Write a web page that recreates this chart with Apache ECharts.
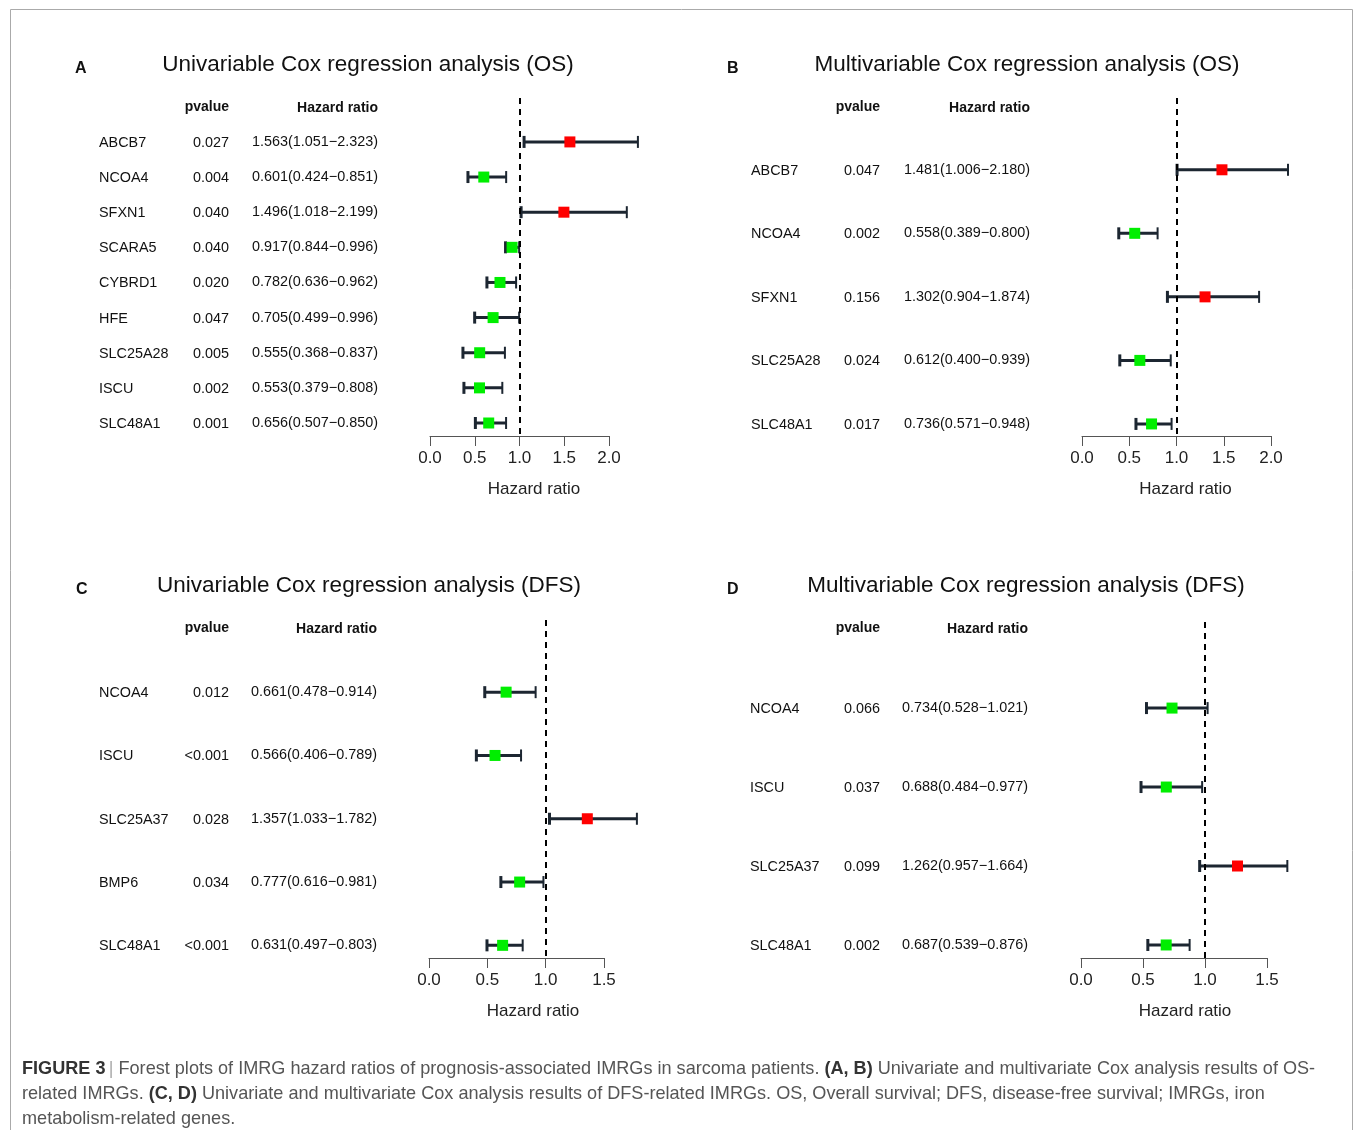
<!DOCTYPE html>
<html>
<head>
<meta charset="utf-8">
<script src="https://cdn.jsdelivr.net/npm/echarts@6/dist/echarts.min.js"></script>
<style>
html,body{margin:0;padding:0;background:#fff;}
#chart{width:1355px;height:1130px;}
</style>
</head>
<body>
<div id="chart"></div>
<script>
// ---------- DATA ----------
// Panel A: Univariable Cox regression analysis (OS)
const genesA = ['ABCB7','NCOA4','SFXN1','SCARA5','CYBRD1','HFE','SLC25A28','ISCU','SLC48A1'];
const pA  = ['0.027','0.004','0.040','0.040','0.020','0.047','0.005','0.002','0.001'];
const hrA = [1.563,0.601,1.496,0.917,0.782,0.705,0.555,0.553,0.656];
const loA = [1.051,0.424,1.018,0.844,0.636,0.499,0.368,0.379,0.507];
const hiA = [2.323,0.851,2.199,0.996,0.962,0.996,0.837,0.808,0.850];

// Panel B: Multivariable Cox regression analysis (OS)
const genesB = ['ABCB7','NCOA4','SFXN1','SLC25A28','SLC48A1'];
const pB  = ['0.047','0.002','0.156','0.024','0.017'];
const hrB = [1.481,0.558,1.302,0.612,0.736];
const loB = [1.006,0.389,0.904,0.400,0.571];
const hiB = [2.180,0.800,1.874,0.939,0.948];

// Panel C: Univariable Cox regression analysis (DFS)
const genesC = ['NCOA4','ISCU','SLC25A37','BMP6','SLC48A1'];
const pC  = ['0.012','<0.001','0.028','0.034','<0.001'];
const hrC = [0.661,0.566,1.357,0.777,0.631];
const loC = [0.478,0.406,1.033,0.616,0.497];
const hiC = [0.914,0.789,1.782,0.981,0.803];

// Panel D: Multivariable Cox regression analysis (DFS)
const genesD = ['NCOA4','ISCU','SLC25A37','SLC48A1'];
const pD  = ['0.066','0.037','0.099','0.002'];
const hrD = [0.734,0.688,1.262,0.687];
const loD = [0.528,0.484,0.957,0.539];
const hiD = [1.021,0.977,1.664,0.876];

const ticksAB = [0, 0.5, 1.0, 1.5, 2.0];
const ticksCD = [0, 0.5, 1.0, 1.5];

const titles = [
  'Univariable Cox regression analysis (OS)',
  'Multivariable Cox regression analysis (OS)',
  'Univariable Cox regression analysis (DFS)',
  'Multivariable Cox regression analysis (DFS)'
];
const letters = ['A','B','C','D'];

// ---------- LAYOUT ----------
const FONT = '"Liberation Sans", Arial, Helvetica, sans-serif';
const layout = [
  {grid:{left:430, top:98, width:179, height:338}, ymin:-1.25, ymax:8.37, ticks:ticksAB,
   geneX:99, pX:229, hrX:252, headY:107, titleX:368, titleY:65, letterX:75, letterY:69, namePad:29},
  {grid:{left:1082, top:98, width:189, height:338}, ymin:-1.13, ymax:4.19, ticks:ticksAB,
   geneX:751, pX:880, hrX:904, headY:107, titleX:1027, titleY:65, letterX:727, letterY:69, namePad:18},
  {grid:{left:429, top:620, width:175, height:338}, ymin:-1.14, ymax:4.2, ticks:ticksCD,
   geneX:99, pX:229, hrX:251, headY:628, titleX:369, titleY:586, letterX:76, letterY:590, namePad:33},
  {grid:{left:1081, top:622, width:186, height:336}, ymin:-1.09, ymax:3.165, ticks:ticksCD,
   geneX:750, pX:880, hrX:902, headY:628, titleX:1026, titleY:586, letterX:727, letterY:590, namePad:22}
];

const panelData = [
  {genes:genesA, p:pA, hr:hrA, lo:loA, hi:hiA},
  {genes:genesB, p:pB, hr:hrB, lo:loB, hi:hiB},
  {genes:genesC, p:pC, hr:hrC, lo:loC, hi:hiC},
  {genes:genesD, p:pD, hr:hrD, lo:loD, hi:hiD}
];

const grids = [], xAxes = [], yAxes = [], series = [], graphics = [];
const ROWFS = 14.4;

panelData.forEach((pd, k) => {
  const L = layout[k];
  grids.push(L.grid);
  const ticks = L.ticks;
  xAxes.push({
    type:'value', gridIndex:k, min:ticks[0], max:ticks[ticks.length-1], interval:0.5,
    axisLine:{show:true, onZero:false, lineStyle:{color:'#555', width:1}},
    axisTick:{show:true, length:10, lineStyle:{color:'#555', width:1}},
    splitLine:{show:false},
    axisLabel:{fontSize:17, color:'#222', margin:14, fontFamily:FONT,
      formatter: v => v.toFixed(1)},
    name:'Hazard ratio', nameLocation:'middle', nameGap:45,
    nameTextStyle:{fontSize:17, color:'#222', fontFamily:FONT, padding:[0,0,0,L.namePad]}
  });
  yAxes.push({
    type:'value', gridIndex:k, inverse:true, min:L.ymin, max:L.ymax, show:false
  });
  const data = pd.genes.map((g,i) => [pd.hr[i], i, pd.lo[i], pd.hi[i]]);
  series.push({
    type:'custom', xAxisIndex:k, yAxisIndex:k, clip:false,
    data: data,
    renderItem: (params, api) => {
      const i = params.dataIndex;
      const est = api.value(0), row = api.value(1), lo = api.value(2), hi = api.value(3);
      const c = api.coord([est, row]);
      const a = api.coord([lo, row]);
      const b = api.coord([hi, row]);
      const y = c[1];
      const stroke = '#1c2631';
      const cap = 6, sz = 11;
      const fill = est > 1 ? '#ff0000' : '#00ee00';
      return {
        type:'group',
        children:[
          {type:'text', x:L.geneX, y:y+1, style:{text:pd.genes[i], fontSize:ROWFS, fontFamily:FONT, fill:'#111', align:'left', verticalAlign:'middle'}},
          {type:'text', x:L.pX, y:y+1, style:{text:pd.p[i], fontSize:ROWFS, fontFamily:FONT, fill:'#111', align:'right', verticalAlign:'middle'}},
          {type:'text', x:L.hrX, y:y, style:{text:pd.hr[i].toFixed(3)+'('+pd.lo[i].toFixed(3)+'\u2212'+pd.hi[i].toFixed(3)+')', fontSize:ROWFS, fontFamily:FONT, fill:'#111', align:'left', verticalAlign:'middle'}},
          {type:'line', shape:{x1:a[0], y1:y, x2:b[0], y2:y}, style:{stroke:stroke, lineWidth:3}},
          {type:'line', shape:{x1:a[0], y1:y-cap, x2:a[0], y2:y+cap}, style:{stroke:stroke, lineWidth:3}},
          {type:'line', shape:{x1:b[0], y1:y-cap, x2:b[0], y2:y+cap}, style:{stroke:stroke, lineWidth:2}},
          {type:'rect', shape:{x:c[0]-sz/2, y:y-sz/2, width:sz, height:sz}, style:{fill:fill}}
        ]
      };
    },
    markLine:{
      silent:true, symbol:'none', animation:false,
      label:{show:false},
      lineStyle:{color:'#000', width:2, type:[6,5]},
      data:[{xAxis:1}]
    }
  });

  // headers
  graphics.push({type:'text', x:L.pX, y:L.headY, style:{text:'pvalue', font:'bold 14px '+FONT, fill:'#111', align:'right', verticalAlign:'middle'}});
  graphics.push({type:'text', x:L.hrX+126, y:L.headY+1, style:{text:'Hazard ratio', font:'bold 14px '+FONT, fill:'#111', align:'right', verticalAlign:'middle'}});
  // title & letter
  graphics.push({type:'text', x:L.titleX, y:L.titleY, style:{text:titles[k], font:'22.5px '+FONT, fill:'#111', align:'center', verticalAlign:'middle'}});
  graphics.push({type:'text', x:L.letterX, y:L.letterY, style:{text:letters[k], font:'bold 16px '+FONT, fill:'#111', align:'left', verticalAlign:'middle'}});
});

// border
graphics.push({type:'rect', shape:{x:10.5, y:9.5, width:1342, height:1140}, style:{fill:'none', stroke:'#aaa', lineWidth:1}, z:-1});

// caption
graphics.push({
  type:'text', x:22, y:1056,
  style:{
    text:'{b|FIGURE 3} {s|| }{t|Forest plots of IMRG hazard ratios of prognosis-associated IMRGs in sarcoma patients. }{b|(A, B)}{t| Univariate and multivariate Cox analysis results of OS-}\n' +
         '{t|related IMRGs. }{b|(C, D)}{t| Univariate and multivariate Cox analysis results of DFS-related IMRGs. OS, Overall survival; DFS, disease-free survival; IMRGs, iron}\n' +
         '{t|metabolism-related genes.}',
    verticalAlign:'top', align:'left',
    rich:{
      b:{fontSize:18.1, fontWeight:'bold', fill:'#333', fontFamily:FONT, lineHeight:25},
      t:{fontSize:18.1, fill:'#555', fontFamily:FONT, lineHeight:25},
      s:{fontSize:18.1, fill:'#aaa', fontFamily:FONT, lineHeight:25}
    }
  }
});

const chart = echarts.init(document.getElementById('chart'), null, {renderer:'canvas'});
chart.setOption({
  animation:false,
  backgroundColor:'#fff',
  grid:grids, xAxis:xAxes, yAxis:yAxes, series:series, graphic:graphics
});
</script>
</body>
</html>
